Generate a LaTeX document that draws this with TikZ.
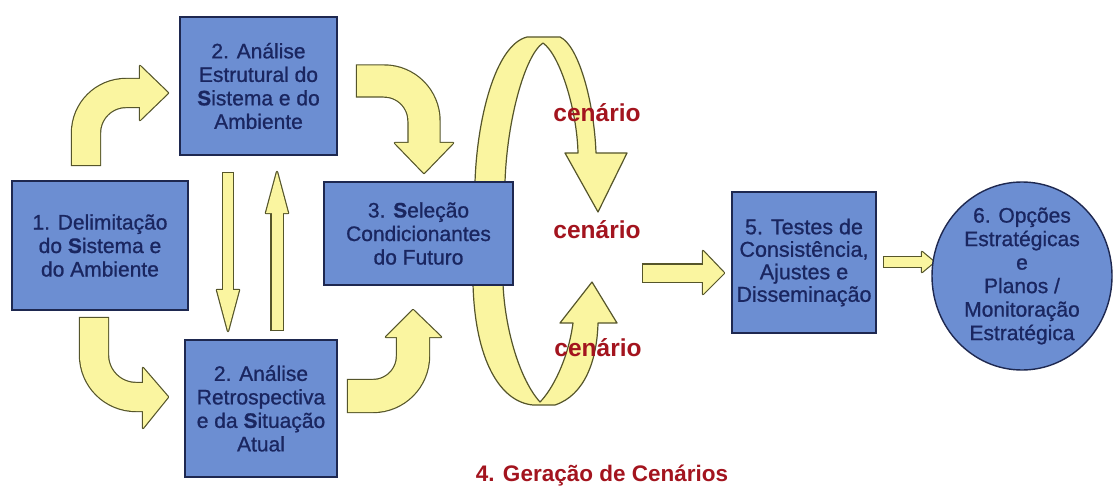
\documentclass[tikz,border=0pt]{standalone}
\usepackage{fontspec}
\setmainfont{Liberation Sans}
\newfontfamily\boxfont[FakeBold=0.9]{Liberation Sans}
\definecolor{boxblue}{HTML}{6C8ED2}
\definecolor{boxline}{HTML}{1E2850}
\definecolor{txtnavy}{HTML}{1A2660}
\definecolor{arrfill}{HTML}{FAF5A0}
\definecolor{arrline}{HTML}{55552A}
\definecolor{cenred}{HTML}{A3141E}
\usetikzlibrary{shapes.geometric}

% block arrow: width, corner radius, shaft path, head path
\newcommand{\yarrow}[4]{%
  \pgfmathsetmacro{\yaout}{#1+2.4}%
  \draw[arrline,line width=\yaout pt,rounded corners=#2pt,shorten <=-1.2pt] #3;
  \filldraw[draw=arrline,fill=arrline,line width=2.4pt,line join=round] #4;
  \draw[arrfill,line width=#1pt,rounded corners=#2pt] #3;
  \fill[arrfill] #4;}

\begin{document}
\begin{tikzpicture}[x=1pt,y=-1pt,
  box/.style={draw=boxline,fill=boxblue,line width=1.4pt,align=center,inner sep=0pt,
    text=txtnavy,font=\boxfont\fontsize{21}{23.5}\selectfont},
  disc/.style={box,ellipse,inner sep=-12pt},
  cen/.style={text=cenred,font=\bfseries\fontsize{24.5}{28}\selectfont},
  arch/.style={fill=arrfill,draw=arrline,line width=1.2pt,line join=round}]
\useasboundingbox (0,0) rectangle (1115,489);
\fill[white] (0,0) rectangle (1115,489);

% arrows between the boxes
\yarrow{28}{40}{(86,165) -- (86,93) -- (140,93)}{(140,66) -- (168,93) -- (140,120) -- cycle}
\yarrow{28}{42}{(94,318) -- (94,397) -- (143,397)}{(143,368) -- (168,397) -- (143,428) -- cycle}
\yarrow{31}{40}{(357,81) -- (424,81) -- (424,143)}{(395,143) -- (424,173) -- (453,143) -- cycle}
\yarrow{32}{40}{(348,396) -- (413,396) -- (413,337)}{(386,337) -- (413,310) -- (441,337) -- cycle}
\yarrow{10}{1}{(228,173) -- (228,290)}{(217,290) -- (228,331) -- (239,290) -- cycle}
\yarrow{11}{1}{(277,330) -- (277,213)}{(266,213) -- (277,172) -- (288,213) -- cycle}
\yarrow{17}{1}{(643,273) -- (703,273)}{(703,251) -- (724,273) -- (703,294) -- cycle}
\yarrow{10}{1}{(884,262) -- (922,262)}{(922,252) -- (934,262) -- (922,272) -- cycle}

% scenario loop, its left leg runs behind box 3
\filldraw[arch] (475,240) -- (475,182) .. controls (477,120) and (495,45) .. (527,37)
  -- (560,37) .. controls (578,45) and (594,100) .. (596,153)
  -- (627,153) -- (598,212) -- (565,153) -- (578,153)
  .. controls (577,110) and (560,55) .. (543,43)
  .. controls (525,55) and (507,120) .. (505,182) -- (505,240) -- cycle;
\filldraw[arch] (473,230) -- (473,284) .. controls (475,360) and (500,402) .. (533,405)
  -- (555,405) .. controls (585,395) and (597,360) .. (598,323)
  -- (617,323) -- (592,282) -- (560,323) -- (573,323)
  .. controls (568,360) and (552,390) .. (540,402)
  .. controls (520,380) and (505,330) .. (503,284) -- (503,230) -- cycle;

% boxes
\node[box,minimum width=176pt,minimum height=129pt] (delim) at (100,245.5)
  {1. Delimitação\\do \textbf{S}istema e\\do Ambiente};
\node[box,minimum width=157pt,minimum height=138pt] (estrut) at (258.5,86)
  {2. Análise\\Estrutural do\\\textbf{S}istema e do\\Ambiente};
\node[box,minimum width=152pt,minimum height=137pt] (retro) at (261,408.5)
  {2. Análise\\Retrospectiva\\e da \textbf{S}ituação\\Atual};
\node[box,minimum width=189pt,minimum height=103pt] (selec) at (418.5,233.5)
  {3. \textbf{S}eleção\\Condicionantes\\do Futuro};
\node[box,minimum width=144pt,minimum height=141pt,font=\boxfont\fontsize{21.5}{22.5}\selectfont] (testes) at (804,262.5)
  {5. Testes de\\Consistência,\\Ajustes e\\Disseminação};
\node[disc,minimum width=180pt,minimum height=188pt] (opcoes) at (1022,276)
  {6. Opções\\Estratégicas\\e\\Planos /\\Monitoração\\Estratégica};

% scenario labels
\node[cen] (cen1) at (597,113) {cenário};
\node[cen] (cen2) at (597,230) {cenário};
\node[cen] (cen3) at (598,348) {cenário};
\node[cen,font=\bfseries\fontsize{22.5}{26}\selectfont] (geracao) at (602,476) {4. Geração de Cenários};
\end{tikzpicture}
\end{document}
